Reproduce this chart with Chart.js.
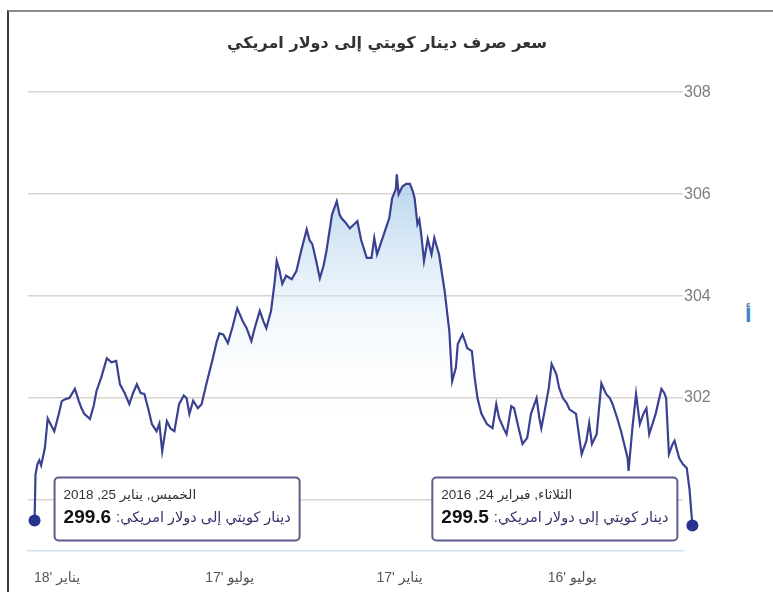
<!DOCTYPE html>
<html lang="ar">
<head>
<meta charset="utf-8">
<script src="https://cdn.jsdelivr.net/npm/chart.js@4.4.1/dist/chart.umd.min.js"></script>
<style>
  html, body { margin: 0; padding: 0; background: #fff; }
  #wrap { position: relative; width: 773px; height: 592px; overflow: hidden; }
  #frame { position: absolute; left: 7px; top: 10px; right: -10px; bottom: -10px;
           border-top: 2px solid #8c8c8c; border-left: 2px solid #3a3a3a; }
  #side { position: absolute; left: 745px; top: 304px; color: #3f86c4;
          font: bold 19px "DejaVu Sans", sans-serif; }
  canvas { position: absolute; left: 0; top: 0; }
</style>
</head>
<body>
<div id="wrap">
  <div id="frame"></div>
  <div id="side">أ</div>
  <canvas id="rateChart" width="773" height="592" dir="rtl"></canvas>
</div>
<script>
const chartTitle = "سعر صرف دينار كويتي إلى دولار امريكي";
const seriesName = "دينار كويتي إلى دولار امريكي";

// days counted from Feb 24, 2016 (right edge) to Jan 25, 2018 (left edge)
const days = [
  0, 3, 6, 10, 14, 16, 19, 21, 25, 28,
  30, 33, 39, 46, 49, 52, 56, 60, 64, 68,
  69, 76, 80, 85, 88, 92, 97, 102, 107, 110,
  113, 118, 124, 131, 134, 138, 142, 145, 150, 153,
  158, 161, 163, 166, 172, 176, 181, 185, 190, 193,
  198, 201, 206, 209, 213, 219, 225, 229, 232, 235,
  240, 242, 245, 250, 252, 256, 259, 264, 270, 272,
  275, 278, 282, 286, 289, 291, 293, 296, 298, 301,
  305, 309, 313, 315, 316, 320, 323, 329, 336, 339,
  342, 347, 353, 357, 361, 365, 370, 374, 376, 379,
  384, 390, 393, 397, 401, 405, 408, 411, 417, 422,
  427, 433, 437, 440, 443, 445, 449, 454, 457, 461,
  466, 470, 475, 479, 485, 490, 495, 500, 504, 507,
  511, 518, 523, 527, 532, 536, 539, 542, 547, 552,
  556, 560, 565, 568, 571, 576, 580, 584, 588, 592,
  596, 600, 605, 610, 614, 619, 624, 630, 635, 638,
  642, 648, 651, 654, 658, 664, 668, 672, 675, 680,
  683, 687, 690, 694, 696, 698, 700, 701
];
const rates = [
  299.5, 300.2, 300.63, 300.7, 300.82, 300.95, 301.16, 301.1, 300.9, 302.0,
  302.1, 302.18, 301.7, 301.29, 301.8, 301.7, 301.49, 302.08, 301.4, 300.57,
  300.82, 301.35, 301.6, 301.88, 302.0, 302.08, 302.29, 301.29, 301.1, 301.51,
  301.16, 300.9, 301.69, 301.78, 301.9, 302.0, 302.2, 302.47, 302.67, 302.2,
  301.69, 301.41, 301.6, 302.0, 301.69, 301.22, 301.1, 301.4, 301.8, 301.84,
  301.29, 301.4, 301.61, 301.88, 301.41, 301.49, 301.7, 302.0, 302.4, 302.92,
  302.98, 303.1, 303.25, 303.06, 302.6, 302.33, 303.31, 304.1, 304.82, 304.95,
  305.14, 304.82, 305.12, 304.69, 305.22, 305.5, 305.41, 305.92, 306.06, 306.2,
  306.2, 306.15, 306.0, 306.39, 306.1, 305.92, 305.53, 305.2, 304.82, 305.14,
  304.75, 304.75, 305.1, 305.47, 305.4, 305.33, 305.45, 305.53, 305.6, 305.86,
  305.6, 304.88, 304.6, 304.35, 304.7, 305.02, 305.1, 305.31, 304.88, 304.49,
  304.33, 304.4, 304.24, 304.5, 304.69, 304.3, 303.71, 303.37, 303.5, 303.71,
  303.4, 303.12, 303.37, 303.5, 303.76, 303.4, 303.08, 303.25, 303.27, 303.1,
  302.78, 302.27, 301.88, 301.8, 301.95, 301.69, 302.0, 302.05, 301.88, 301.35,
  301.4, 301.55, 300.96, 301.5, 301.35, 301.49, 301.8, 302.08, 302.1, 302.27,
  302.1, 301.88, 302.1, 302.27, 302.73, 302.7, 302.78, 302.4, 302.14, 301.85,
  301.59, 301.69, 301.8, 301.95, 302.18, 302.0, 301.98, 301.94, 301.7, 301.35,
  301.45, 301.6, 301.02, 300.68, 300.78, 300.7, 300.5, 299.6
];

const xTickDays = [677, 493, 312, 128];
const xTickLabels = ["يناير '18", "يوليو '17", "يناير '17", "يوليو '16"];
const yTicks = [300, 302, 304, 306, 308];
const yTickLabels = ["", "302", "304", "306", "308"];

// the two end-point boxes
const annDays = [701, 0];
const annRates = [299.6, 299.5];
const annDates = ["الخميس, يناير 25, 2018", "الثلاثاء, فبراير 24, 2016"];
const annSide = ["right", "left"];

const lineColor = "#3a4190";
const dotColor = "#28338f";
const dateFont = '13.5px "Liberation Sans", "DejaVu Sans"';
const valueFont = 'bold 19px "Liberation Sans", "DejaVu Sans"';
const nameFont = '14.5px "Liberation Sans", "DejaVu Sans"';

const endBoxes = {
  id: "endBoxes",
  afterDatasetsDraw(chart) {
    const { ctx, scales: { x, y } } = chart;
    const top = y.getPixelForValue(Math.min(...annRates)) - 48;
    annDays.forEach((d, i) => {
      const px = x.getPixelForValue(d);
      const py = y.getPixelForValue(annRates[i]);
      const value = annRates[i].toFixed(1);
      const padX = 9, gap = 5, h = 63;

      ctx.save();
      // end dot (the right one sits past the plot edge, so draw it here)
      ctx.beginPath();
      ctx.arc(px, py, 6, 0, Math.PI * 2);
      ctx.fillStyle = dotColor;
      ctx.fill();

      ctx.font = dateFont;
      const w1 = ctx.measureText(annDates[i]).width;
      ctx.font = valueFont;
      const wn = ctx.measureText(value).width;
      ctx.font = nameFont;
      const wl = ctx.measureText(seriesName + ":").width;
      const w = Math.max(w1, wn + gap + wl) + padX * 2;

      const left = annSide[i] === "right" ? px + 20 : px - 15 - w;

      ctx.beginPath();
      ctx.roundRect(left, top, w, h, 4);
      ctx.fillStyle = "#ffffff";
      ctx.fill();
      ctx.lineWidth = 2;
      ctx.strokeStyle = "#5b5d8c";
      ctx.stroke();

      ctx.textAlign = "left";
      ctx.textBaseline = "middle";
      ctx.direction = "rtl";
      ctx.fillStyle = "#333333";
      ctx.font = dateFont;
      ctx.fillText(annDates[i], left + padX, top + 18);

      ctx.direction = "ltr";
      ctx.fillStyle = "#111111";
      ctx.font = valueFont;
      ctx.fillText(value, left + padX, top + 40);

      ctx.direction = "rtl";
      ctx.fillStyle = "#33336a";
      ctx.font = nameFont;
      ctx.fillText(seriesName + ":", left + padX + wn + gap, top + 40);
      ctx.restore();
    });
  }
};

// newest first, so the line runs from left to right like the picture
const points = days.map((d, i) => ({ x: d, y: rates[i] })).reverse();

new Chart(document.getElementById("rateChart"), {
  type: "line",
  data: {
    datasets: [{
      label: seriesName,
      data: points,
      borderColor: lineColor,
      borderWidth: 2.2,
      tension: 0,
      clip: false,
      fill: "start",
      backgroundColor(context) {
        const { chart } = context;
        const area = chart.chartArea;
        if (!area) return "rgba(0,0,0,0)";
        const g = chart.ctx.createLinearGradient(0, area.top + 80, 0, area.top + 330);
        g.addColorStop(0, "rgba(166,203,234,0.85)");
        g.addColorStop(1, "rgba(255,255,255,0)");
        return g;
      },
      pointRadius: 0
    }]
  },
  options: {
    responsive: false,
    animation: false,
    layout: { padding: { left: 28, right: 27 } },
    plugins: {
      legend: { display: false },
      tooltip: { enabled: false },
      title: {
        display: true,
        text: chartTitle,
        color: "#333333",
        font: { family: '"DejaVu Sans", sans-serif', size: 16, weight: "bold" },
        padding: { top: 34, bottom: 39 }
      }
    },
    scales: {
      x: {
        type: "linear",
        reverse: true,
        min: 10,
        max: 708,
        afterBuildTicks: (s) => { s.ticks = xTickDays.map((v) => ({ value: v })); },
        afterFit: (s) => { s.height = 41; },
        grid: { display: false },
        border: { display: true, color: "#cfe0ee", width: 1.5 },
        ticks: {
          autoSkip: false,
          maxRotation: 0,
          padding: 11,
          color: "#555555",
          font: { family: '"Liberation Sans", "DejaVu Sans"', size: 14 },
          callback: (v) => xTickLabels[xTickDays.indexOf(v)]
        }
      },
      y: {
        position: "right",
        min: 299,
        max: 308,
        afterBuildTicks: (s) => { s.ticks = yTicks.map((v) => ({ value: v })); },
        afterFit: (s) => { s.width = 63; },
        grid: { color: "#dcd3ce", lineWidth: 1.5, drawTicks: false },
        border: { display: false },
        ticks: {
          padding: 1,
          color: "#7d7d7d",
          font: { family: '"Liberation Sans", "DejaVu Sans"', size: 16 },
          callback: (v) => yTickLabels[yTicks.indexOf(v)]
        }
      }
    }
  },
  plugins: [endBoxes]
});
</script>
</body>
</html>
